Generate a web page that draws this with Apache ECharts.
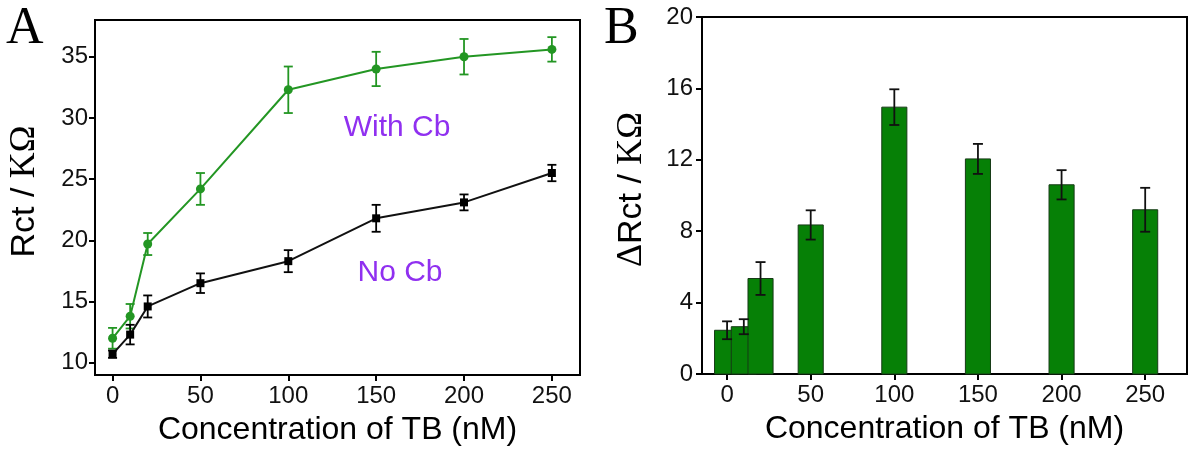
<!DOCTYPE html>
<html>
<head>
<meta charset="utf-8">
<script src="https://cdn.jsdelivr.net/npm/echarts@6.0.0/dist/echarts.min.js"></script>
<style>
  html, body { margin: 0; padding: 0; background: #fff; }
  #main { width: 1192px; height: 452px; }
</style>
</head>
<body>
<div id="main"></div>
<script>
// concentration of TB (nM)
const conc = [0, 10, 20, 50, 100, 150, 200, 250];
// panel A: Rct (KΩ)
const withCb = [12.0, 13.8, 19.7, 24.2, 32.3, 34.0, 35.0, 35.6];
const withCbErr = [0.85, 1.0, 0.9, 1.3, 1.9, 1.4, 1.45, 1.0];
const noCb = [10.7, 12.3, 14.6, 16.5, 18.3, 21.8, 23.1, 25.5];
const noCbErr = [0.3, 0.8, 0.9, 0.8, 0.9, 1.1, 0.65, 0.67];
// panel B: ΔRct (KΩ)
const deltaRct = [2.45, 2.65, 5.35, 8.35, 14.95, 12.05, 10.6, 9.2];
const deltaErr = [0.5, 0.42, 0.92, 0.82, 1.0, 0.84, 0.82, 1.23];
// tick labels
const xTicks = [0, 50, 100, 150, 200, 250];
const yTicksA = [10, 15, 20, 25, 30, 35];

const sans = 'Liberation Sans, Arial, sans-serif';
const serif = 'Liberation Serif, Times New Roman, serif';
const green = '#239623';
const barGreen = '#068006';

const pairs = (ys) => conc.map((x, i) => [x, ys[i]]);
const errs = (ys, es) => conc.map((x, i) => [x, ys[i] - es[i], ys[i] + es[i]]);

function errorBar(color, cap, width) {
  return function (params, api) {
    const x = api.value(0);
    const lo = api.coord([x, api.value(1)]);
    const hi = api.coord([x, api.value(2)]);
    const st = { stroke: color, lineWidth: width };
    return {
      type: 'group',
      children: [
        { type: 'line', shape: { x1: lo[0], y1: lo[1], x2: hi[0], y2: hi[1] }, style: st },
        { type: 'line', shape: { x1: lo[0] - cap / 2, y1: lo[1], x2: lo[0] + cap / 2, y2: lo[1] }, style: st },
        { type: 'line', shape: { x1: hi[0] - cap / 2, y1: hi[1], x2: hi[0] + cap / 2, y2: hi[1] }, style: st }
      ]
    };
  };
}

function barRender(params, api) {
  const x = api.value(0);
  const p0 = api.coord([x - 7.5, 0]);
  const p1 = api.coord([x + 7.5, api.value(1)]);
  return {
    type: 'rect',
    shape: { x: p0[0], y: p1[1], width: p1[0] - p0[0], height: p0[1] - p1[1] },
    style: { fill: barGreen, stroke: '#163a16', lineWidth: 1 }
  };
}

const axisCommon = {
  axisLine: { show: true, onZero: false, lineStyle: { color: '#000', width: 2 } },
  axisTick: { show: true, inside: false, length: 6, lineStyle: { color: '#000', width: 2 } },
  splitLine: { show: false },
  nameTextStyle: { fontFamily: sans, fontSize: 32, color: '#000' }
};

const yNameStyle = {
  padding: [0, 0, 0, 12],
  rich: {
    a: { fontFamily: sans, fontSize: 34, color: '#000' },
    b: { fontFamily: serif, fontSize: 36, color: '#000' }
  }
};

const xAxisOf = (idx, min, max) => ({
  ...axisCommon,
  gridIndex: idx,
  type: 'value',
  min: min,
  max: max,
  name: 'Concentration of TB (nM)',
  nameLocation: 'middle',
  nameGap: 39,
  axisTick: { ...axisCommon.axisTick, customValues: xTicks },
  axisLabel: { customValues: xTicks, fontFamily: sans, fontSize: 24, color: '#111', margin: 9 }
});

const option = {
  animation: false,
  backgroundColor: '#fff',
  grid: [
    { left: 95, top: 20, right: 612, bottom: 77, show: true, borderColor: '#000', borderWidth: 2 },
    { left: 702, top: 17, right: 5, bottom: 78, show: true, borderColor: '#000', borderWidth: 2 }
  ],
  xAxis: [xAxisOf(0, -10, 266), xAxisOf(1, -15, 275)],
  yAxis: [
    {
      ...axisCommon,
      gridIndex: 0,
      type: 'value',
      min: 9,
      max: 38,
      name: '{a|Rct / }{b|KΩ}',
      nameLocation: 'middle',
      nameGap: 52,
      nameTextStyle: yNameStyle,
      axisTick: { ...axisCommon.axisTick, customValues: yTicksA },
      axisLabel: { customValues: yTicksA, fontFamily: sans, fontSize: 24, color: '#111', margin: 7 }
    },
    {
      ...axisCommon,
      gridIndex: 1,
      type: 'value',
      min: 0,
      max: 20,
      interval: 4,
      name: '{b|Δ}{a|Rct / }{b|KΩ}',
      nameLocation: 'middle',
      nameGap: 52,
      nameTextStyle: yNameStyle,
      axisLabel: { fontFamily: sans, fontSize: 24, color: '#111', margin: 9 }
    }
  ],
  graphic: [
    { type: 'text', x: 6, y: 29, style: { text: 'A', fontFamily: serif, fontSize: 52, fill: '#000', verticalAlign: 'middle' } },
    { type: 'text', x: 604, y: 29, style: { text: 'B', fontFamily: serif, fontSize: 52, fill: '#000', verticalAlign: 'middle' } },
    { type: 'text', x: 397, y: 128, style: { text: 'With Cb', fontFamily: sans, fontSize: 30, fill: '#9030f0', align: 'center', verticalAlign: 'middle' } },
    { type: 'text', x: 400, y: 273, style: { text: 'No Cb', fontFamily: sans, fontSize: 30, fill: '#9030f0', align: 'center', verticalAlign: 'middle' } }
  ],
  series: [
    {
      type: 'custom', xAxisIndex: 0, yAxisIndex: 0, z: 2,
      renderItem: errorBar(green, 9, 1.8),
      encode: { x: 0, y: [1, 2] },
      data: errs(withCb, withCbErr)
    },
    {
      type: 'custom', xAxisIndex: 0, yAxisIndex: 0, z: 2,
      renderItem: errorBar('#000', 9, 1.8),
      encode: { x: 0, y: [1, 2] },
      data: errs(noCb, noCbErr)
    },
    {
      name: 'With Cb', type: 'line', xAxisIndex: 0, yAxisIndex: 0, z: 3,
      symbol: 'circle', symbolSize: 9,
      lineStyle: { color: green, width: 2 },
      itemStyle: { color: green },
      data: pairs(withCb)
    },
    {
      name: 'No Cb', type: 'line', xAxisIndex: 0, yAxisIndex: 0, z: 3,
      symbol: 'rect', symbolSize: 8,
      lineStyle: { color: '#111', width: 2 },
      itemStyle: { color: '#000' },
      data: pairs(noCb)
    },
    {
      type: 'custom', xAxisIndex: 1, yAxisIndex: 1, z: 2,
      renderItem: barRender,
      encode: { x: 0, y: 1 },
      data: pairs(deltaRct)
    },
    {
      type: 'custom', xAxisIndex: 1, yAxisIndex: 1, z: 3,
      renderItem: errorBar('#111', 10, 1.8),
      encode: { x: 0, y: [1, 2] },
      data: errs(deltaRct, deltaErr)
    }
  ]
};

const myChart = echarts.init(document.getElementById('main'));
myChart.setOption(option);
</script>
</body>
</html>
